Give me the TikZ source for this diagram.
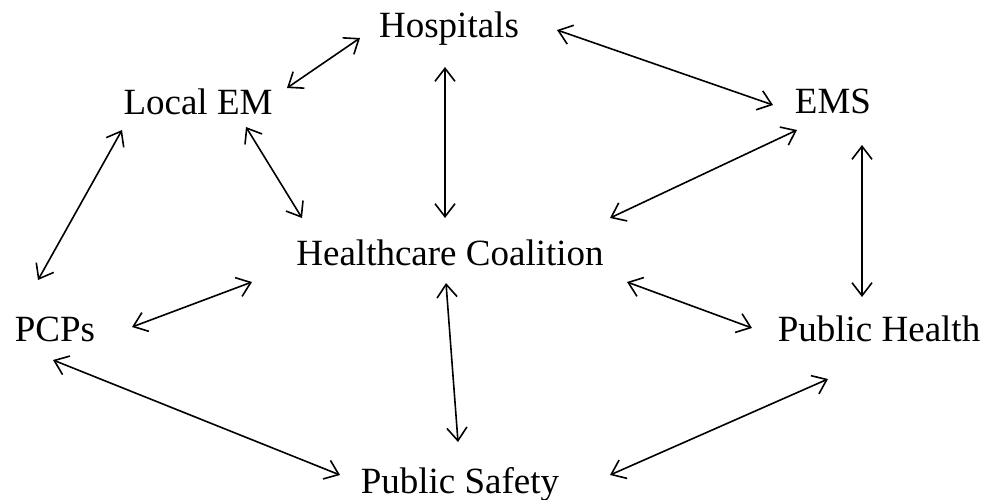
\documentclass[tikz,border=0pt]{standalone}
\usepackage{fontspec}
\setmainfont{Liberation Serif}
\usetikzlibrary{arrows.meta}
\begin{document}
\begin{tikzpicture}[x=1pt,y=-1pt,
  lbl/.style={anchor=base,inner sep=0pt,font=\fontsize{37}{40}\selectfont},
  arr/.style={line width=1.6pt,{Straight Barb[length=13pt,width=20pt]}-{Straight Barb[length=13pt,width=20pt]}}]
\useasboundingbox (0,0) rectangle (990,499);
\node[lbl] (hosp) at (449,37) {Hospitals};
\node[lbl] (lem) at (198,114) {Local EM};
\node[lbl] (ems) at (833,113) {EMS};
\node[lbl] (hc) at (450,265) {Healthcare Coalition};
\node[lbl] (pcp) at (55,341) {PCPs};
\node[lbl] (ph) at (879,341) {Public Health};
\node[lbl] (ps) at (460,493) {Public Safety};
\draw[arr] ([shift={(89,-26)}]lem.base) -- ([shift={(-89,1)}]hosp.base);
\draw[arr] ([shift={(108,-7)}]hosp.base) -- ([shift={(-60,-8)}]ems.base);
\draw[arr] ([shift={(-4,30)}]hosp.base) -- ([shift={(-5,-47)}]hc.base);
\draw[arr] ([shift={(48,13)}]lem.base) -- ([shift={(-148,-47)}]hc.base);
\draw[arr] ([shift={(-36,17)}]ems.base) -- ([shift={(160,-47)}]hc.base);
\draw[arr] ([shift={(29,32)}]ems.base) -- ([shift={(-17,-44)}]ph.base);
\draw[arr] ([shift={(-76,16)}]lem.base) -- ([shift={(-17,-61)}]pcp.base);
\draw[arr] ([shift={(77,-14)}]pcp.base) -- ([shift={(-198,17)}]hc.base);
\draw[arr] ([shift={(177,17)}]hc.base) -- ([shift={(-127,-13)}]ph.base);
\draw[arr] ([shift={(-4,18)}]hc.base) -- ([shift={(-2,-51)}]ps.base);
\draw[arr] ([shift={(-2,19)}]pcp.base) -- ([shift={(-120,-18)}]ps.base);
\draw[arr] ([shift={(150,-18)}]ps.base) -- ([shift={(-51,38)}]ph.base);
\end{tikzpicture}
\end{document}
